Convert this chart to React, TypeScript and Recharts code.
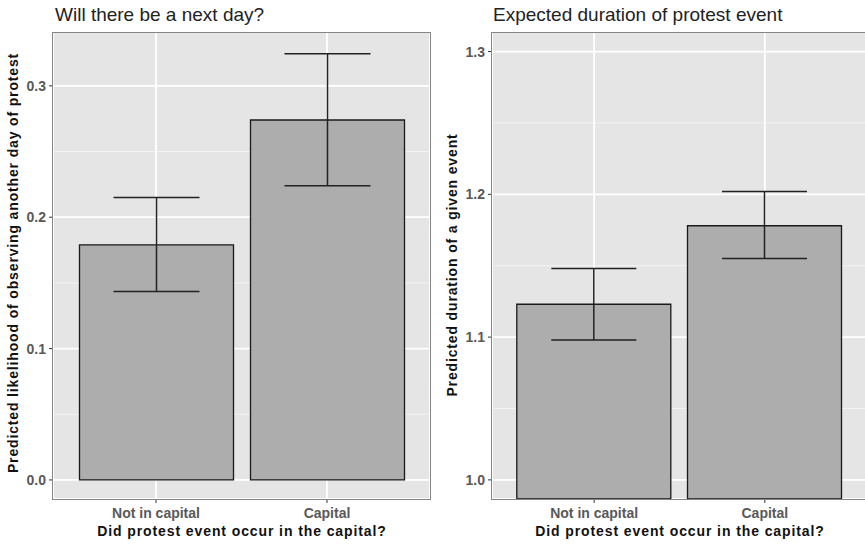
import React from "react";
import {
  BarChart,
  Bar,
  XAxis,
  YAxis,
  CartesianGrid,
  ErrorBar,
} from "recharts";

const categories = ["Not in capital", "Capital"];

// panel 1: probability of a next day
const nextDayEst = [0.179, 0.274];
const nextDayLow = [0.1435, 0.224];
const nextDayHigh = [0.215, 0.3245];
const nextDayTicks = [0, 0.1, 0.2, 0.3];
const nextDayMinor = [0.05, 0.15, 0.25];
const nextDayDomain = [-0.0145, 0.341];

// panel 2: expected duration
const durationEst = [1.123, 1.178];
const durationLow = [1.098, 1.155];
const durationHigh = [1.148, 1.202];
const durationTicks = [1.0, 1.1, 1.2, 1.3];
const durationMinor = [1.05, 1.15, 1.25];
const durationDomain = [0.9866, 1.3137];

const build = (est: number[], low: number[], high: number[]) =>
  categories.map((c, i) => ({
    cat: c,
    value: est[i],
    err: [est[i] - low[i], high[i] - est[i]],
  }));

const nextDayData = build(nextDayEst, nextDayLow, nextDayHigh);
const durationData = build(durationEst, durationLow, durationHigh);

const FONT = '"Liberation Sans", Arial, sans-serif';
const tickStyle = { fill: "#595959", fontSize: 14, fontWeight: 700, fontFamily: FONT };

// map values through whatever scale object the grid hands us
const scaleValues = (yAxis: any, values: number[]): number[] => {
  const s = yAxis && yAxis.scale;
  if (!s) return [];
  if (typeof s === "function") return values.map((v) => s(v));
  if (typeof s.map === "function") return values.map((v) => s.map(v));
  return [];
};

function Panel(props: {
  data: any[];
  ticks: number[];
  minor: number[];
  domain: number[];
  marginLeft: number;
  marginRight: number;
  padX: number;
  barSize: number;
  capWidth: number;
}) {
  const { data, ticks, minor, domain, marginLeft, marginRight, padX, barSize, capWidth } = props;
  return (
    <BarChart
      width={440}
      height={545}
      data={data}
      margin={{ top: 32, right: marginRight, bottom: 16, left: marginLeft }}
    >
      <CartesianGrid
        fill="#e5e5e5"
        stroke="#f2f2f2"
        strokeWidth={1}
        vertical={false}
        horizontalCoordinatesGenerator={({ yAxis }: any) => scaleValues(yAxis, minor)}
      />
      <CartesianGrid stroke="#ffffff" strokeWidth={1.8} />
      <XAxis
        dataKey="cat"
        padding={{ left: padX, right: padX }}
        axisLine={false}
        tickLine={{ stroke: "#333" }}
        tickSize={4}
        tickMargin={5}
        tick={tickStyle}
        height={30}
        interval={0}
      />
      <YAxis
        type="number"
        domain={domain}
        ticks={ticks}
        allowDataOverflow
        axisLine={false}
        tickLine={{ stroke: "#333" }}
        tickSize={4}
        tickMargin={3}
        tick={tickStyle}
        tickFormatter={(v: number) => v.toFixed(1)}
        width={40}
      />
      <Bar
        dataKey="value"
        fill="#adadad"
        stroke="#1a1a1a"
        strokeWidth={1.3}
        barSize={barSize}
        isAnimationActive={false}
      >
        <ErrorBar
          dataKey="err"
          width={capWidth}
          stroke="#222"
          strokeWidth={1.5}
          direction="y"
          isAnimationActive={false}
        />
      </Bar>
    </BarChart>
  );
}

const abs = (s: React.CSSProperties): React.CSSProperties => ({ position: "absolute", ...s });

const titleStyle: React.CSSProperties = { top: 4, fontSize: 19, color: "#222", whiteSpace: "nowrap" };
const axisTitle: React.CSSProperties = {
  fontSize: 14,
  fontWeight: 700,
  letterSpacing: 0.9,
  color: "#111",
  whiteSpace: "nowrap",
};

export default function App() {
  return (
    <div
      style={{
        position: "fixed",
        left: 0,
        top: 0,
        width: 865,
        height: 545,
        overflow: "hidden",
        background: "#fff",
        fontFamily: FONT,
      }}
    >
      <div style={abs({ left: 0, top: 0 })}>
        <Panel
          data={nextDayData}
          ticks={nextDayTicks}
          minor={nextDayMinor}
          domain={nextDayDomain}
          marginLeft={13}
          marginRight={10}
          padX={17.5}
          barSize={154}
          capWidth={43}
        />
      </div>
      <div style={abs({ left: 430, top: 0 })}>
        <Panel
          data={durationData}
          ticks={durationTicks}
          minor={durationMinor}
          domain={durationDomain}
          marginLeft={22}
          marginRight={3}
          padX={16.8}
          barSize={154}
          capWidth={42.5}
        />
      </div>

      {/* panel borders */}
      <div
        style={abs({
          left: 52,
          top: 32,
          width: 379,
          height: 468,
          border: "1.5px solid #858585",
          boxSizing: "border-box",
          pointerEvents: "none",
        })}
      />
      <div
        style={abs({
          left: 491,
          top: 32,
          width: 380,
          height: 468,
          border: "1.5px solid #858585",
          boxSizing: "border-box",
          pointerEvents: "none",
        })}
      />

      {/* titles */}
      <div style={abs({ left: 55, ...titleStyle })}>Will there be a next day?</div>
      <div style={abs({ left: 493, ...titleStyle })}>Expected duration of protest event</div>

      {/* axis titles */}
      <div style={abs({ left: 242, top: 531, transform: "translate(-50%, -50%)", ...axisTitle })}>
        Did protest event occur in the capital?
      </div>
      <div style={abs({ left: 680, top: 531, transform: "translate(-50%, -50%)", ...axisTitle })}>
        Did protest event occur in the capital?
      </div>
      <div
        style={abs({
          left: 13,
          top: 263,
          transform: "translate(-50%, -50%) rotate(-90deg)",
          ...axisTitle,
          letterSpacing: 0.85,
        })}
      >
        Predicted likelihood of observing another day of protest
      </div>
      <div
        style={abs({
          left: 452,
          top: 265,
          transform: "translate(-50%, -50%) rotate(-90deg)",
          ...axisTitle,
          letterSpacing: 0.85,
        })}
      >
        Predicted duration of a given event
      </div>
    </div>
  );
}
